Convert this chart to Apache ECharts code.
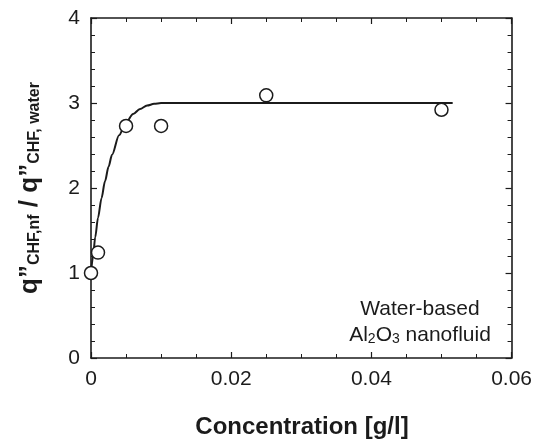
<!DOCTYPE html>
<html>
<head>
<meta charset="utf-8">
<script src="https://cdn.jsdelivr.net/npm/echarts@6/dist/echarts.min.js"></script>
<style>
  html, body { margin: 0; padding: 0; background: #fff; }
  #chart { width: 535px; height: 439px; }
</style>
</head>
<body>
<div id="chart"></div>
<script>
// Measured CHF enhancement of a water-based Al2O3 nanofluid
const concentration = [0, 0.001, 0.005, 0.01, 0.025, 0.05];   // g/l
const chfRatio = [1.0, 1.24, 2.73, 2.73, 3.09, 2.92];

// Trend curve through the measurements
const fitConcentration = [0, 0.0003, 0.0006, 0.001, 0.0015, 0.002, 0.0025, 0.003, 0.004, 0.005, 0.006, 0.007, 0.008, 0.009, 0.01, 0.0516];
const fitRatio = [1.0, 1.2, 1.42, 1.65, 1.88, 2.08, 2.25, 2.39, 2.62, 2.77, 2.87, 2.93, 2.97, 2.99, 3.0, 3.0];

const xTicks = [0, 0.02, 0.04, 0.06];
const yTicks = [0, 1, 2, 3, 4];

const ink = '#1b1b1b';
const font = 'Liberation Sans, Arial, Helvetica, sans-serif';

const chart = echarts.init(document.getElementById('chart'), null, { renderer: 'canvas' });

const gridBox = { left: 91, right: 22, top: 18, bottom: 81 };

function frameAxis(extra) {
  return Object.assign({
    type: 'value',
    axisLine: { show: true, onZero: false, lineStyle: { color: ink, width: 1.6 } },
    axisTick: { show: true, inside: true, length: 6, lineStyle: { color: ink, width: 1.2 } },
    minorTick: { show: true, length: 4, lineStyle: { color: ink, width: 1 } },
    splitLine: { show: false },
    minorSplitLine: { show: false }
  }, extra);
}

const xRange = { min: xTicks[0], max: xTicks[xTicks.length - 1], interval: xTicks[1] - xTicks[0] };
const yRange = { min: yTicks[0], max: yTicks[yTicks.length - 1], interval: yTicks[1] - yTicks[0] };

chart.setOption({
  animation: false,
  backgroundColor: '#fff',
  grid: Object.assign({ containLabel: false }, gridBox),
  xAxis: [
    frameAxis(Object.assign({}, xRange, {
      position: 'bottom',
      minorTick: { show: true, splitNumber: 4, length: 4, lineStyle: { color: ink, width: 1 } },
      axisLabel: {
        margin: 11, fontSize: 21, color: ink, fontFamily: font,
        formatter: v => (v === 0 ? '0' : v.toFixed(2))
      }
    })),
    frameAxis(Object.assign({}, xRange, {
      position: 'top',
      minorTick: { show: true, splitNumber: 4, length: 4, lineStyle: { color: ink, width: 1 } },
      axisLabel: { show: false }
    }))
  ],
  yAxis: [
    frameAxis(Object.assign({}, yRange, {
      position: 'left',
      minorTick: { show: true, splitNumber: 5, length: 4, lineStyle: { color: ink, width: 1 } },
      axisLabel: { margin: 11, fontSize: 21, color: ink, fontFamily: font, formatter: v => String(v) }
    })),
    frameAxis(Object.assign({}, yRange, {
      position: 'right',
      minorTick: { show: true, splitNumber: 5, length: 4, lineStyle: { color: ink, width: 1 } },
      axisLabel: { show: false }
    }))
  ],
  series: [
    {
      type: 'line',
      xAxisIndex: 0,
      yAxisIndex: 0,
      data: fitConcentration.map((c, i) => [c, fitRatio[i]]),
      smooth: 0.3,
      smoothMonotone: 'x',
      showSymbol: false,
      lineStyle: { color: ink, width: 2 },
      z: 2
    },
    {
      type: 'scatter',
      xAxisIndex: 0,
      yAxisIndex: 0,
      data: concentration.map((c, i) => [c, chfRatio[i]]),
      symbol: 'circle',
      symbolSize: 13,
      itemStyle: { color: '#fff', borderColor: ink, borderWidth: 1.5, opacity: 1 },
      z: 3
    }
  ],
  graphic: [
    {
      type: 'text',
      x: 302,
      y: 427,
      style: {
        text: 'Concentration [g/l]',
        font: 'bold 24px ' + font,
        fill: ink,
        textAlign: 'center',
        textVerticalAlign: 'middle',
        verticalAlign: 'middle'
      }
    },
    {
      type: 'text',
      x: 29,
      y: 188,
      rotation: Math.PI / 2,
      style: {
        text: '{q|q”}{s|CHF,nf}{q| / q”}{s|CHF, water}',
        fill: ink,
        textAlign: 'center',
        textVerticalAlign: 'middle',
        verticalAlign: 'middle',
        rich: {
          q: { font: 'bold 26px ' + font, fill: ink, lineHeight: 28, verticalAlign: 'bottom' },
          s: { font: 'bold 16px ' + font, fill: ink, lineHeight: 10, verticalAlign: 'bottom' }
        }
      }
    },
    {
      type: 'text',
      x: 420,
      y: 309,
      style: {
        text: 'Water-based',
        font: '21px ' + font,
        fill: ink,
        textAlign: 'center',
        textVerticalAlign: 'middle',
        verticalAlign: 'middle'
      }
    },
    {
      type: 'text',
      x: 420,
      y: 334,
      style: {
        text: '{n|Al}{s|2}{n|O}{s|3}{n| nanofluid}',
        fill: ink,
        textAlign: 'center',
        textVerticalAlign: 'middle',
        verticalAlign: 'middle',
        rich: {
          n: { font: '21px ' + font, fill: ink, lineHeight: 24, verticalAlign: 'bottom' },
          s: { font: '14px ' + font, fill: ink, lineHeight: 10, verticalAlign: 'bottom' }
        }
      }
    }
  ]
});
</script>
</body>
</html>
